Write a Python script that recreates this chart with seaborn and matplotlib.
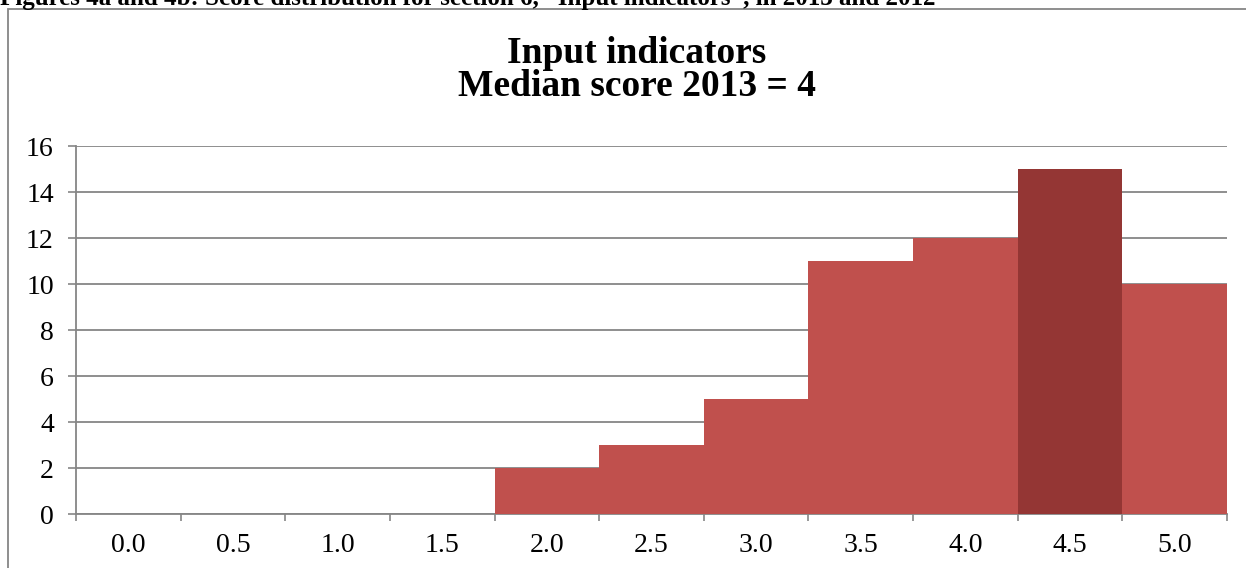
import matplotlib
matplotlib.use("Agg")
import matplotlib.pyplot as plt
import seaborn as sns
import pandas as pd
from matplotlib.patches import Rectangle

scores = ["0.0", "0.5", "1.0", "1.5", "2.0", "2.5", "3.0", "3.5", "4.0", "4.5", "5.0"]
counts = [0, 0, 0, 0, 2, 3, 5, 11, 12, 15, 10]
median_label = "4.5"
title = "Input indicators\nMedian score 2013 = 4"
caption = "Figures 4a and 4b: Score distribution for section 6, \u201cInput indicators\u201d, in 2013 and 2012"

sns.set_theme(style="white")
plt.rcParams["font.family"] = ["Liberation Serif", "DejaVu Serif"]
plt.rcParams["text.color"] = "black"
plt.rcParams["xtick.labelcolor"] = "black"
plt.rcParams["ytick.labelcolor"] = "black"

df = pd.DataFrame({"score": scores, "count": counts})
base = "#C0504D"
dark = "#943634"
palette = {s: (dark if s == median_label else base) for s in scores}

fig = plt.figure(figsize=(12.46, 5.68), dpi=100)
ax = fig.add_axes([76 / 1246, 1 - 514 / 568, (1227 - 76) / 1246, (514 - 146) / 568])

sns.barplot(data=df, x="score", y="count", hue="score", palette=palette,
            legend=False, width=1.0, saturation=1, ax=ax, linewidth=0, zorder=3)

ax.set_xlim(-0.5, len(scores) - 0.5)
ax.set_ylim(0, 16)
ax.set_yticks(range(0, 17, 2))
ax.set_yticklabels([str(v) for v in range(0, 17, 2)], fontsize=20, color="black")
ax.set_xticks(range(len(scores)))
ax.set_xticklabels(scores, fontsize=20, color="black")
ax.set_xticks([i - 0.5 for i in range(len(scores) + 1)], minor=True)
ax.tick_params(axis="x", which="major", length=0, pad=14)
ax.tick_params(axis="x", which="minor", length=5, width=1.2, color="#868686", direction="out", bottom=True)
ax.tick_params(axis="y", length=6, width=1.2, color="#868686", direction="out", left=True, pad=10)
ax.set_xlabel("")
ax.set_ylabel("")
ax.yaxis.grid(True, color="#868686", linewidth=1.3, zorder=0)
ax.set_axisbelow(True)
for s in ["top", "right"]:
    ax.spines[s].set_visible(False)
for s in ["left", "bottom"]:
    ax.spines[s].set_color("#868686")
    ax.spines[s].set_linewidth(1.3)

fig.text(637 / 1246, 1 - 70 / 568, title, ha="center", va="center",
         fontsize=27, fontweight="bold", linespacing=0.95, color="black")

fig.text(0 / 1246, 1 - 5 / 568, caption, ha="left", va="baseline",
         fontsize=18, fontweight="bold", color="black")

fig.patches.append(Rectangle((8 / 1246, -0.1), 1.2, 1.1 - 9 / 568,
                             transform=fig.transFigure, fill=False,
                             edgecolor="#868686", linewidth=1.3))

fig.savefig("out.png", dpi=100)
